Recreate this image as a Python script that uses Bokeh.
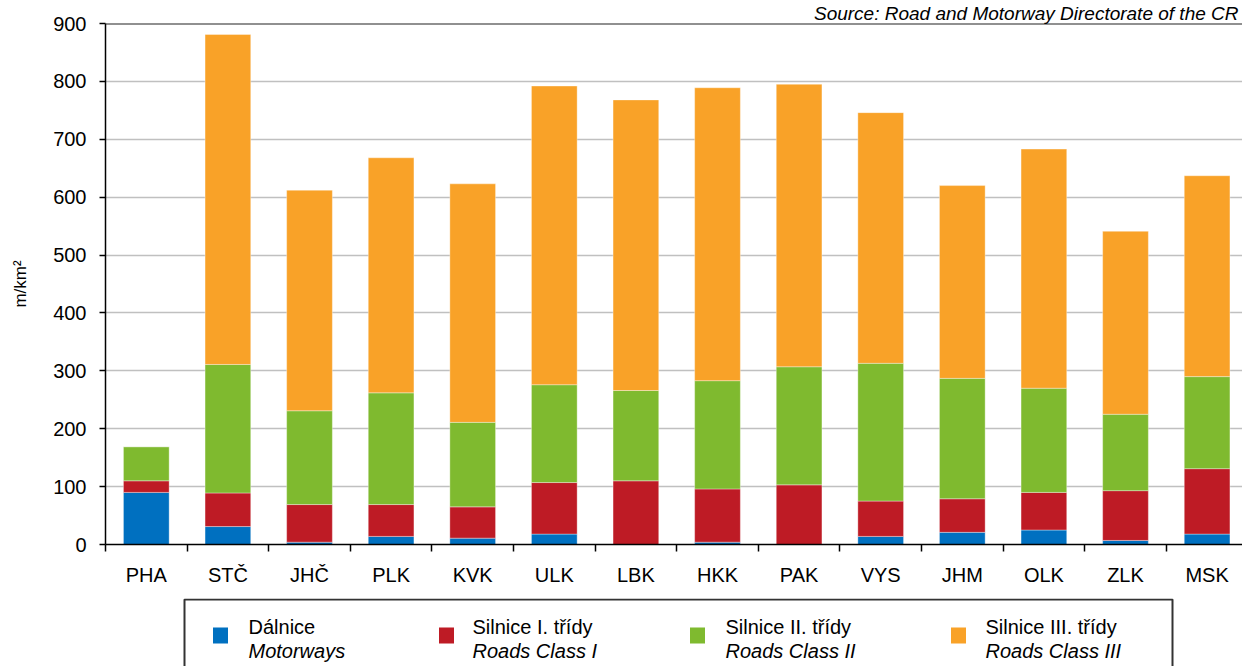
from bokeh.plotting import figure
from bokeh.models import ColumnDataSource, Range1d, FixedTicker, Span
from bokeh.layouts import column
from bokeh.embed import file_html
from bokeh.resources import INLINE
from bokeh.core.properties import value

# ---------------- data ----------------
regions = ["PHA", "STČ", "JHČ", "PLK", "KVK", "ULK", "LBK",
           "HKK", "PAK", "VYS", "JHM", "OLK", "ZLK", "MSK"]
motorways = [90, 31, 4, 14, 11, 18, 0, 4, 0, 14, 21, 25, 7, 18]
roads_class_1 = [20, 58, 65, 55, 54, 89, 110, 92, 103, 61, 58, 65, 86, 113]
roads_class_2 = [59, 222, 162, 193, 146, 169, 156, 187, 204, 238, 208, 180, 132, 159]
roads_class_3 = [0, 570, 381, 406, 412, 516, 502, 506, 488, 433, 333, 413, 316, 347]

y_ticks = [0, 100, 200, 300, 400, 500, 600, 700, 800, 900]
series_keys = ["motorways", "class1", "class2", "class3"]
series_cz = ["Dálnice", "Silnice I. třídy", "Silnice II. třídy", "Silnice III. třídy"]
series_en = ["Motorways", "Roads Class I", "Roads Class II", "Roads Class III"]
colors = ["#0070C0", "#BE1B25", "#7FBA2F", "#F9A228"]
y_label = "m/km²"
source_text = "Source: Road and Motorway Directorate of the CR"

FONT = "Liberation Sans"
W = 1242
LEFT = 105          # frame left edge (px)
CAT_W = 81.6        # px per category

# ---------------- main chart ----------------
xs = list(range(len(regions)))
src = ColumnDataSource(dict(x=xs, motorways=motorways, class1=roads_class_1,
                            class2=roads_class_2, class3=roads_class_3))

p = figure(width=W, height=598, output_backend="svg", toolbar_location=None,
           x_range=Range1d(-0.5, -0.5 + (W - LEFT) / CAT_W), y_range=Range1d(0, 900),
           min_border_left=LEFT, min_border_right=0, min_border_top=0,
           min_border_bottom=54)
p.outline_line_color = None
p.background_fill_color = "white"
p.border_fill_color = "white"

p.title.text = source_text
p.title.align = "right"
p.title.text_font = FONT
p.title.text_font_size = "19px"
p.title.text_font_style = "italic"
p.title.text_color = "black"
p.title.standoff = 0
p.title.offset = 4

p.vbar_stack(series_keys, x="x", width=0.56, color=colors, source=src,
             line_color="white", line_alpha=0.35, line_width=1)

# x axis: labels at category centres, small ticks at category boundaries
xa = p.xaxis[0]
xa.ticker = FixedTicker(ticks=xs, minor_ticks=[i - 0.5 for i in range(len(regions) + 1)])
xa.major_label_overrides = {i: r for i, r in enumerate(regions)}
xa.major_tick_in = 0
xa.major_tick_out = 0
xa.minor_tick_in = 0
xa.minor_tick_out = 7
xa.minor_tick_line_color = "black"
xa.minor_tick_line_width = 1.5
xa.axis_line_color = "black"
xa.axis_line_width = 1.5
xa.major_label_standoff = 12
xa.major_label_text_font = FONT
xa.major_label_text_font_size = "20px"
xa.major_label_text_color = "black"

ya = p.yaxis[0]
ya.ticker = FixedTicker(ticks=y_ticks, minor_ticks=[])
ya.major_tick_in = 0
ya.major_tick_out = 6
ya.major_tick_line_color = "black"
ya.major_tick_line_width = 1.5
ya.axis_line_color = "black"
ya.axis_line_width = 1.5
ya.major_label_standoff = 13
ya.major_label_text_font = FONT
ya.major_label_text_font_size = "20px"
ya.major_label_text_color = "black"
ya.axis_label = y_label
ya.axis_label_text_font = FONT
ya.axis_label_text_font_size = "17px"
ya.axis_label_text_font_style = "normal"
ya.axis_label_text_color = "black"
ya.axis_label_standoff = 20

p.xgrid.visible = False
p.ygrid.grid_line_color = "#c0c0c0"
p.ygrid.grid_line_width = 1.5

p.add_layout(Span(location=900, dimension="width", line_color="#222222", line_width=2))

# ---------------- legend (own panel, x/y in page pixels) ----------------
H2 = 68
lg = figure(width=W, height=H2, output_backend="svg", toolbar_location=None,
            x_range=Range1d(LEFT, W), y_range=Range1d(0, H2),
            x_axis_type=None, y_axis_type=None,
            min_border_left=LEFT, min_border_right=0, min_border_top=0,
            min_border_bottom=0)
lg.outline_line_color = None
lg.grid.visible = False

box_left, box_right, box_top = 184, 1172, 67
lg.line(x=[box_left, box_left, box_right, box_right], y=[-5, box_top, box_top, -5],
        line_color="#333333", line_width=2)

square_x = [220, 446, 697, 958]
text_x = [248, 472, 725, 985]
lg.rect(x=square_x, y=[31] * 4, width=15, height=16, fill_color=colors, line_color=None)
lg.text(x=text_x, y=[40] * 4, text=series_cz, text_baseline="middle", text_align="left",
        text_font=value(FONT), text_font_size="20px", text_color="black")
lg.text(x=text_x, y=[16] * 4, text=series_en, text_baseline="middle", text_align="left",
        text_font=value(FONT), text_font_size="20px", text_font_style="italic",
        text_color="black")

layout = column(p, lg, spacing=0)
open("out.html", "w").write(file_html(layout, INLINE))
